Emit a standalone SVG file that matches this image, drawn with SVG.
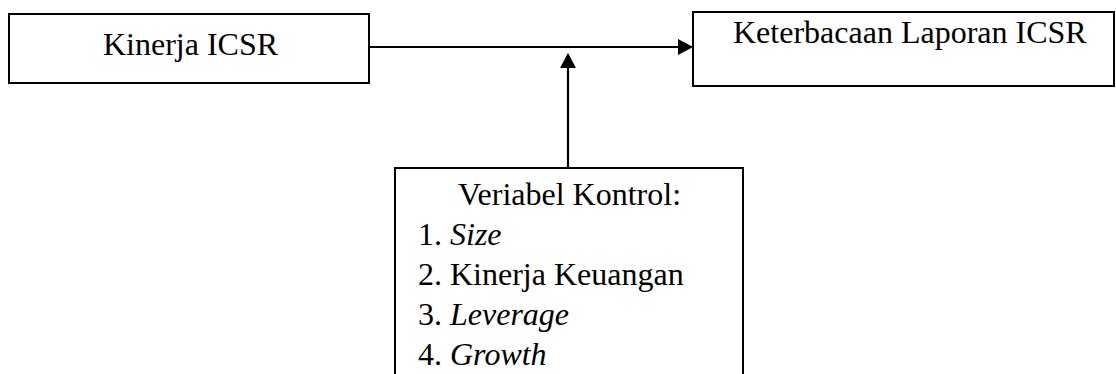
<svg xmlns="http://www.w3.org/2000/svg" width="1116" height="374" viewBox="0 0 1116 374">
<style>
.box{fill:#fff;stroke:#000;stroke-width:2}
.t{font-family:"Liberation Serif","Times New Roman",serif;font-size:32px;fill:#000}
.i{font-style:italic}
.c{stroke:#000;stroke-width:2.2;fill:none}
</style>
<rect width="1116" height="374" fill="#fff"/>
<g id="n1">
<rect class="box" x="9" y="14" width="360" height="69"/>
<text class="t" x="103" y="55">Kinerja ICSR</text>
</g>
<g id="n2">
<rect class="box" x="693" y="12" width="421" height="74"/>
<text class="t" x="733" y="43">Keterbacaan Laporan ICSR</text>
</g>
<g id="n3">
<rect class="box" x="395" y="168" width="348" height="220"/>
<text class="t" x="458" y="205">Veriabel Kontrol:</text>
<text class="t" x="418" y="245">1. <tspan class="i">Size</tspan></text>
<text class="t" x="418" y="285">2. Kinerja Keuangan</text>
<text class="t" x="418" y="325">3. <tspan class="i">Leverage</tspan></text>
<text class="t" x="418" y="365">4. <tspan class="i">Growth</tspan></text>
</g>
<g id="connectors">
<line class="c" x1="369" y1="47" x2="680" y2="47"/>
<polygon points="678,39 693,47 678,55" fill="#000"/>
<line class="c" x1="568" y1="168" x2="568" y2="66"/>
<polygon points="560,68 568,53 576,68" fill="#000"/>
</g>
</svg>
